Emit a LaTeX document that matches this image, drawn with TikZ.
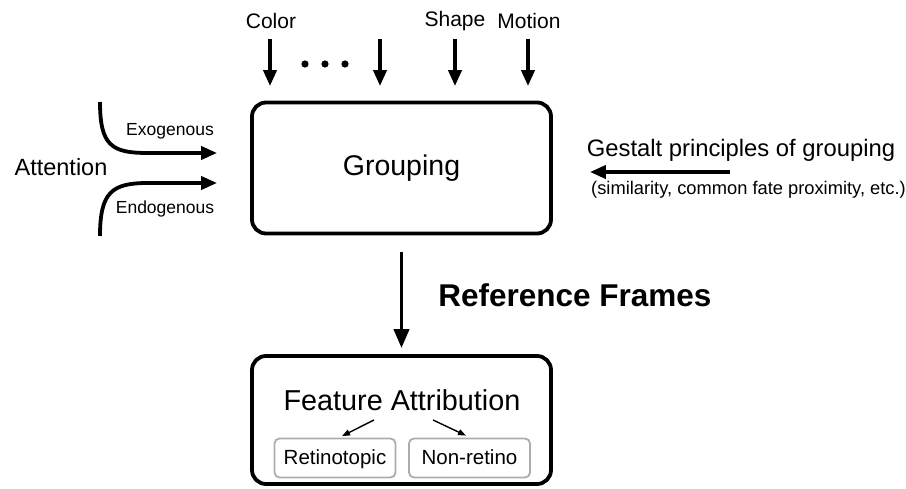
\documentclass[tikz,border=0pt]{standalone}
\usepackage{fontspec}
\setmainfont{Liberation Sans}
\usetikzlibrary{arrows.meta,positioning}
\newcommand{\fs}[1]{\fontsize{#1}{#1}\selectfont}

\begin{document}
\begin{tikzpicture}[x=1pt,y=-1pt,line width=3.8pt,
    >={Triangle[length=16pt,width=13pt]},
    bigbox/.style={draw,rounded corners=14pt,line width=3.8pt,inner sep=0pt,minimum width=299pt},
    subbox/.style={draw=gray!65,rounded corners=5pt,line width=1.8pt,minimum width=121pt,minimum height=39pt,
      text height=16pt,text depth=4pt,inner sep=0pt,font=\fs{20.5}},
    feat/.style={font=\fs{21},inner sep=0pt,anchor=base}]
  \useasboundingbox (0,0) rectangle (906,489);
  % boxes
  \node[bigbox,minimum height=131pt,font=\fs{28.5}] (grp) at (401.5,168) {Grouping};
  \node[bigbox,minimum height=128pt] (fab) at (401.5,420) {};
  \node[font=\fs{28.8},inner sep=0pt] (fa) at (402,400) {Feature Attribution};
  \node[subbox] (ret) at (335,458) {Retinotopic};
  \node[subbox] (non) at (469.5,458) {Non-retino};
  \draw[line width=1.4pt,-{Triangle[length=8pt,width=6pt]}] ([xshift=-28pt,yshift=-7.5pt]fa.south) -- ([xshift=7pt,yshift=1.5pt]ret.north);
  \draw[line width=1.4pt,-{Triangle[length=8pt,width=6pt]}] ([xshift=31pt,yshift=-7.5pt]fa.south) -- ([xshift=-3.5pt,yshift=2pt]non.north);
  % features on top
  \node[feat] (color) at (271,29) {Color};
  \node[feat] (shape) at (455,27) {Shape};
  \node[feat] (motion) at (529,29) {Motion};
  \coordinate (in1) at (270,39);
  \coordinate (in2) at (380,39);
  \coordinate (in3) at (455,39);
  \coordinate (in4) at (528,39);
  \foreach \i in {1,...,4}
    \draw[->,shorten >=14.5pt] (in\i) -- (in\i |- grp.north);
  \foreach \x in {305,325,345}
    \fill (\x,64) circle (3.6pt);
  % attention
  \node[font=\fs{23.5}] (att) at (61,167) {Attention};
  \node[font=\fs{17.5}] (exo) at (170,131) {Exogenous};
  \node[font=\fs{17.5}] (endo) at (165,209) {Endogenous};
  \coordinate (exo0) at (100,102);
  \coordinate (endo0) at (100,236);
  \draw[->] (exo0) .. controls +(0,44) and +(-36,0) .. ++(48,51) -- ([xshift=-33pt,yshift=15pt]grp.west);
  \draw[->] (endo0) .. controls +(0,-44) and +(-36,0) .. ++(48,-53) -- ([xshift=-33pt,yshift=-15pt]grp.west);
  % gestalt
  \node[font=\fs{23.8}] (gest) at (741,150) {Gestalt principles of grouping};
  \node[font=\fs{18.3}] (sim) at (748.5,190) {(similarity, common fate proximity, etc.)};
  \coordinate (g0) at (730,172);
  \draw[->,shorten >=37pt] (g0) -- (g0 -| grp.east);
  % reference frames
  \draw[->,>={Triangle[length=19pt,width=15pt]},shorten <=16.5pt,shorten >=6pt] (grp.south) -- (fab.north);
  \node[font=\bfseries\fs{31.5}] (rf) at (575,295) {Reference Frames};
\end{tikzpicture}
\end{document}
